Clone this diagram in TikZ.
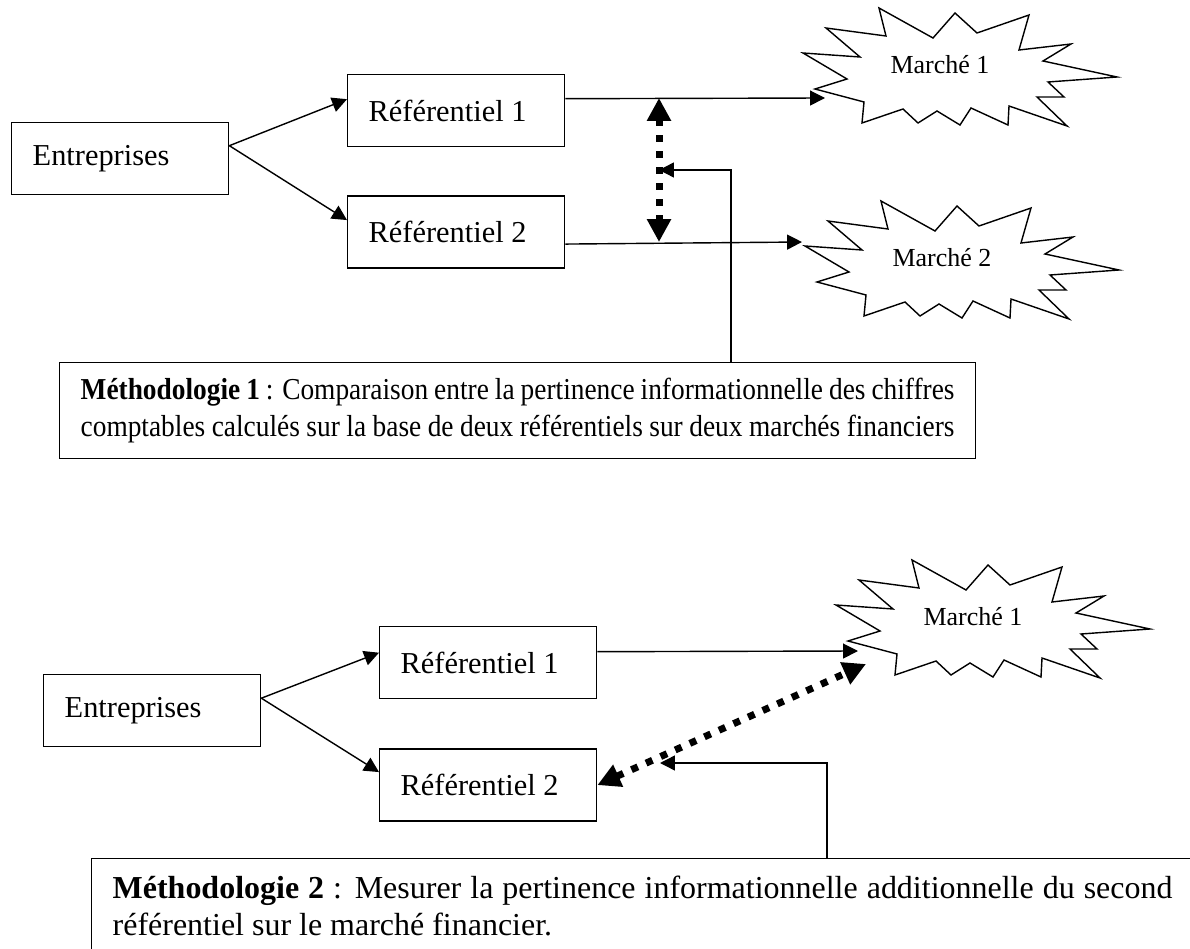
\documentclass[tikz,border=0pt]{standalone}
\usepackage{fontspec}
\setmainfont{Liberation Serif}
\usetikzlibrary{arrows.meta,positioning}

\tikzset{
  rbox/.style={draw, line width=0.8pt, minimum height=1.44cm, text width=3.5cm,
               inner xsep=0.42cm, align=flush left, font=\fontsize{17.3}{21}\selectfont},
  mbox/.style={draw, line width=0.8pt, inner xsep=0.42cm, align=justify},
  mtext/.style={font=\fontsize{14.8}{18}\selectfont},
  arr/.style={line width=0.8pt, -{Triangle[length=8.5pt,width=8.5pt]}},
  dotarr/.style={line width=0.14cm, dash pattern=on 0.14cm off 0.18cm,
                 {Triangle[length=13pt,width=13pt]}-{Triangle[length=13pt,width=13pt]}},
  burst/.pic={
    \draw[line width=0.8pt, fill=white] (-125,24) -- (-93,14) -- (-137,-12) -- (-80,-8)
      -- (-114,-37) -- (-54,-29) -- (-61,-57) -- (-7,-27) -- (15,-52) -- (37,-32)
      -- (89,-50) -- (79,-15) -- (131,-21) -- (103,-4) -- (177,12) -- (108,17)
      -- (124,32) -- (97,32) -- (127,61) -- (69,41) -- (68,60) -- (31,43)
      -- (20,60) -- (-3,46) -- (-22,58) -- (-37,44) -- (-78,58) -- (-76,37) -- cycle;
  }
}

\begin{document}
\begin{tikzpicture}[x=0.02cm, y=-0.02cm]
  \useasboundingbox (0,0) rectangle (1190,949);
  \clip (0,0) rectangle (1190,949);
  % First methodology: boxes
  \node (ent1) [rbox, anchor=north west] at (11,122) {Entreprises};
  \node (ref1) [rbox, anchor=north west] at (347,74) {Référentiel 1};
  \node (ref2) [rbox, below=0.96cm of ref1] {Référentiel 2};
  % Markets
  \pic at (940,65) {burst};
  \pic at (942,258) {burst};
  \node (mkt1) [mtext] at (940,65) {Marché 1};
  \node (mkt2) [mtext] at (942,258) {Marché 2};
  \coordinate (in1) at (825,98);
  \coordinate (in2) at (802,242);
  \coordinate (gap1) at (659,98);
  \coordinate (gap2) at (659,242);
  % Text box
  \node (meth1) [mbox, text width=17.48cm, minimum height=1.92cm, anchor=north west,
                 font=\fontsize{17.3}{21.3}\selectfont\addfontfeatures{FakeStretch=0.9}] at (59,362)
    {\textbf{Méthodologie 1} : Comparaison entre la pertinence informationnelle des chiffres\linebreak
     comptables calculés sur la base de deux référentiels sur deux marchés financiers};
  % Arrows
  \draw[arr] ([yshift=0.26cm]ent1.east) -- ([yshift=0.23cm]ref1.west);
  \draw[arr] ([yshift=0.26cm]ent1.east) -- ([yshift=0.24cm]ref2.west);
  \draw[arr] ([yshift=0.24cm]ref1.east) -- (in1);
  \draw[arr] ([yshift=-0.24cm]ref2.east) -- (in2);
  \draw[dotarr] (gap1) -- coordinate[pos=0.5] (cmp1) (gap2);
  \draw[arr] (meth1.north west) ++(672,0) |- (cmp1);

  % Second methodology: boxes
  \node (ent2) [rbox, anchor=north west] at (43,674) {Entreprises};
  \node (ref3) [rbox, anchor=north west] at (379,626) {Référentiel 1};
  \node (ref4) [rbox, below=0.98cm of ref3] {Référentiel 2};
  % Market
  \pic at (973,617) {burst};
  \node (mkt3) [mtext] at (973,617) {Marché 1};
  \coordinate (in3) at (858,651);
  \coordinate (tip3) at (866,664);
  \coordinate (cmp2) at (660,763);
  % Text box
  \node (meth2) [mbox, text width=21.2cm, inner ysep=0.34cm, text depth=2cm, anchor=north west,
                 font=\fontsize{18.2}{21.3}\selectfont] at (91,858)
    {\textbf{Méthodologie 2} : Mesurer la pertinence informationnelle additionnelle du second\linebreak
     référentiel sur le marché financier.};
  % Arrows
  \draw[arr] ([yshift=0.25cm]ent2.east) -- ([yshift=0.2cm]ref3.west);
  \draw[arr] ([yshift=0.25cm]ent2.east) -- ([yshift=0.26cm]ref4.west);
  \draw[arr] ([yshift=0.22cm]ref3.east) -- (in3);
  \draw[dotarr] (ref4.east) -- (tip3);
  \draw[arr] (meth2.north west) ++(736,0) |- (cmp2);
\end{tikzpicture}
\end{document}
